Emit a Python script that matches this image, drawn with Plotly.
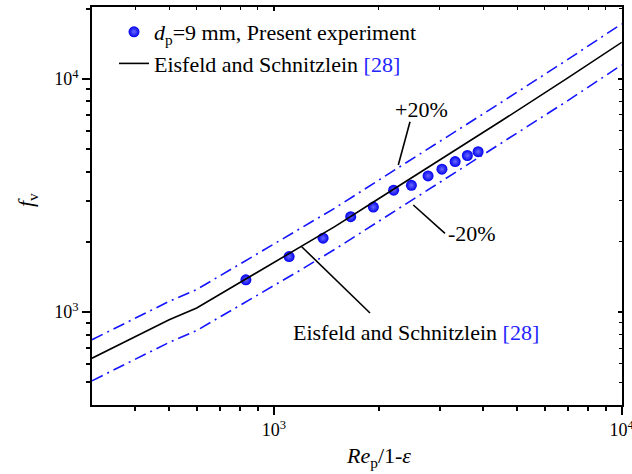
import math
import plotly.graph_objects as go

# ---------------- data ----------------
exp_x = [831, 1106, 1385, 1663, 1932, 2210, 2485, 2775, 3042, 3320, 3600, 3865]
exp_y = [1375, 1730, 2075, 2565, 2820, 3330, 3495, 3835, 4100, 4415, 4690, 4870]

corr_x = [300, 400, 500, 600, 800, 1000, 1200, 1500, 2000, 3000, 4500, 7000, 10000]
corr_y = [635, 786, 927, 1042, 1338, 1625, 1904, 2330, 3062, 4482, 6589, 10080, 14330]
upper_y = [762, 943, 1112, 1250, 1606, 1950, 2285, 2795, 3675, 5380, 7910, 12100, 17200]
lower_y = [508, 629, 742, 834, 1070, 1300, 1523, 1862, 2450, 3585, 5270, 8060, 11460]

x_ticks = [1000, 10000]
x_ticktext = ["10<sup>3</sup>", "10<sup>4</sup>"]
x_minor = [400, 500, 600, 700, 800, 900, 2000, 3000, 4000, 5000, 6000, 7000, 8000, 9000]
y_ticks = [1000, 10000]
y_ticktext = ["10<sup>3</sup>", "10<sup>4</sup>"]
y_minor = [500, 600, 700, 800, 900, 2000, 3000, 4000, 5000, 6000, 7000, 8000, 9000, 20000]

legend_exp = "<i>d</i><sub>p</sub>=9 mm, Present experiment"
legend_corr = "Eisfeld and Schnitzlein <span style='color:#2323ff'>[28]</span>"
x_title = "<i>Re</i><sub>p</sub>/1-<i>ε</i>"
y_title = "<i>f</i><sub>v</sub>"

# ---------------- figure ----------------
W, H = 632, 474
L, R, T, B = 92, 10, 7, 69
FONT = "Liberation Serif"
BLUE = "#1414ff"


def pxp(xp):
    return (xp - L) / (W - L - R)


def pyp(yp):
    return (H - B - yp) / (H - T - B)


fig = go.Figure()

fig.add_trace(go.Scatter(x=corr_x, y=upper_y, mode="lines", showlegend=False,
                         line=dict(color=BLUE, width=1.6, dash="12px,5px,2px,5px")))
fig.add_trace(go.Scatter(x=corr_x, y=lower_y, mode="lines", showlegend=False,
                         line=dict(color=BLUE, width=1.6, dash="12px,5px,2px,5px")))
fig.add_trace(go.Scatter(x=exp_x, y=exp_y, mode="markers", name=legend_exp,
                         marker=dict(size=11, color="#0000f0",
                                     gradient=dict(type="radial", color="#6a6aff"),
                                     line=dict(width=0))))
fig.add_trace(go.Scatter(x=corr_x, y=corr_y, mode="lines", name=legend_corr,
                         line=dict(color="black", width=1.6)))
# invisible trace to activate mirrored (inside-tick) axes
fig.add_trace(go.Scatter(x=[corr_x[0]], y=[corr_y[0]], xaxis="x2", yaxis="y2",
                         mode="markers", marker=dict(opacity=0), showlegend=False,
                         hoverinfo="skip"))

xr = [math.log10(300), 4.0008]
yr = [math.log10(400), math.log10(20300)]

common = dict(showgrid=False, zeroline=False, linecolor="black", linewidth=1.6,
              tickcolor="black", tickwidth=1.5, automargin=False)

fig.update_layout(
    width=W, height=H,
    margin=dict(l=L, r=R, t=T, b=B, autoexpand=False),
    paper_bgcolor="white", plot_bgcolor="white",
    font=dict(family=FONT, size=22, color="black"),
    xaxis=dict(type="log", range=xr, tickmode="array", tickvals=x_ticks, ticktext=x_ticktext,
               ticks="outside", ticklen=8, tickfont=dict(size=18, family=FONT),
               ticklabeloverflow="allow",
               minor=dict(tickmode="array", tickvals=x_minor, ticks="outside", ticklen=4,
                          tickcolor="black", tickwidth=1.5),
               **common),
    yaxis=dict(type="log", range=yr, tickmode="array", tickvals=y_ticks, ticktext=y_ticktext,
               ticks="outside", ticklen=8, tickfont=dict(size=18, family=FONT),
               ticklabeloverflow="allow",
               minor=dict(tickmode="array", tickvals=y_minor, ticks="outside", ticklen=4,
                          tickcolor="black", tickwidth=1.5),
               **common),
    xaxis2=dict(type="log", range=xr, overlaying="x", side="top", anchor="y2",
                tickmode="array", tickvals=x_ticks, showticklabels=False,
                ticks="inside", ticklen=4,
                minor=dict(tickmode="array", tickvals=x_minor, ticks="inside", ticklen=3,
                           tickcolor="black", tickwidth=1),
                **common),
    yaxis2=dict(type="log", range=yr, overlaying="y", side="right", anchor="x2",
                tickmode="array", tickvals=y_ticks, showticklabels=False,
                ticks="inside", ticklen=4,
                minor=dict(tickmode="array", tickvals=y_minor, ticks="inside", ticklen=3,
                           tickcolor="black", tickwidth=1),
                **common),
    legend=dict(x=pxp(114), y=pyp(11), xanchor="left", yanchor="top",
                bgcolor="rgba(0,0,0,0)", font=dict(size=22, family=FONT),
                tracegroupgap=0, itemwidth=30),
)

# leader lines
for (x0, y0, x1, y1) in [(410, 121.7, 398.3, 165), (413.3, 205, 445, 233.3),
                         (301.7, 246.7, 370, 313)]:
    fig.add_shape(type="line", xref="paper", yref="paper",
                  x0=pxp(x0), y0=pyp(y0), x1=pxp(x1), y1=pyp(y1),
                  line=dict(color="black", width=1.6))

annots = [
    ("+20%", 421.5, 109, 0),
    ("-20%", 472, 233, 0),
    ("Eisfeld and Schnitzlein <span style='color:#2323ff'>[28]</span>", 416, 332, 0),
    (x_title, 378, 457, 0),
    (y_title, 27, 200, -90),
]
for text, xp, yp, ang in annots:
    fig.add_annotation(text=text, xref="paper", yref="paper", x=pxp(xp), y=pyp(yp),
                       xanchor="center", yanchor="middle", showarrow=False,
                       textangle=ang, font=dict(size=22, family=FONT, color="black"))

fig.write_html("out.html")
